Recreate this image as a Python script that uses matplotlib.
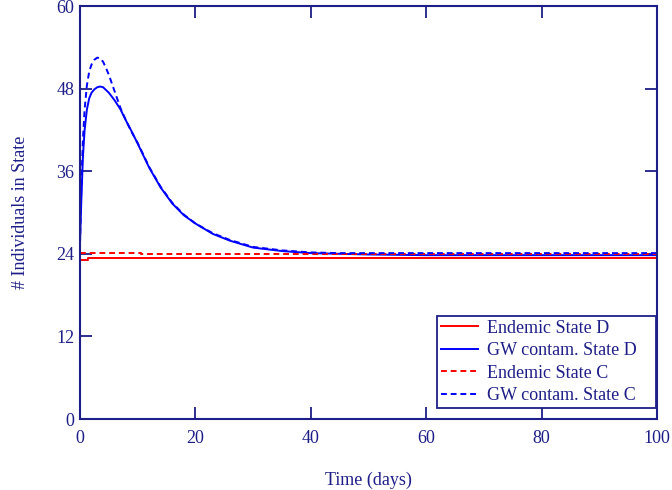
import matplotlib
matplotlib.use("Agg")
import matplotlib.pyplot as plt

# ---- data ----
t_gw_D = [0, 0.2, 0.5, 0.8, 1.2, 1.6, 2.0, 2.5, 3.0, 3.5, 4.0, 5.0, 6.0, 7.0, 8.0, 9.0,
          10, 12, 14, 16, 18, 20, 23, 26, 30, 35, 40, 45, 50, 60, 80, 100]
gw_D = [25.5, 31.0, 38.0, 42.0, 45.0, 46.6, 47.4, 47.9, 48.2, 48.3, 48.2, 47.4, 46.3, 45.0,
        43.3, 41.7, 40.0, 36.5, 33.6, 31.3, 29.6, 28.4, 26.9, 25.9, 24.9, 24.4, 24.1, 24.0,
        23.9, 23.8, 23.8, 23.8]

t_gw_C = [0, 0.2, 0.5, 0.8, 1.2, 1.6, 2.0, 2.5, 3.0, 3.5, 4.0, 4.5, 5.0, 6.0, 7.0, 8.0, 9.0,
          10, 12, 14, 16, 18, 20, 23, 26, 30, 35, 40, 45, 50, 60, 80, 100]
gw_C = [25.5, 33.0, 40.5, 45.0, 48.5, 50.5, 51.5, 52.2, 52.5, 52.4, 51.9, 51.0, 50.0, 47.6,
        45.2, 43.3, 41.6, 40.1, 36.6, 33.7, 31.4, 29.7, 28.4, 27.0, 26.0, 25.0, 24.5, 24.2,
        24.1, 24.1, 24.1, 24.1, 24.1]

t_end_D = [0, 1.4, 1.4, 100]
end_D = [23.1, 23.1, 23.4, 23.4]

t_end_C = [0, 10.6, 10.6, 100]
end_C = [24.05, 24.05, 23.9, 23.9]

x_ticks = [0, 20, 40, 60, 80, 100]
y_ticks = [0, 12, 24, 36, 48, 60]

# ---- style ----
navy = "#1e1e88"
plt.rcParams['font.family'] = ['Liberation Serif', 'DejaVu Serif']
plt.rcParams['font.size'] = 13

fig = plt.figure(figsize=(6.72, 4.90), dpi=100)
ax = fig.add_axes([80/672, 71/490, 577/672, 413/490])

lw = 1.4
ax.plot(t_end_D, end_D, color="#ff0000", lw=lw, label="Endemic State D")
ax.plot(t_gw_D, gw_D, color="#0000ff", lw=lw, label="GW contam. State D")
ax.plot(t_end_C, end_C, color="#ff0000", lw=lw, ls=(0, (3, 2)), label="Endemic State C")
ax.plot(t_gw_C, gw_C, color="#0000ff", lw=lw, ls=(0, (3, 2)), label="GW contam. State C")

ax.set_xlim(0, 100)
ax.set_ylim(0, 60)
ax.set_xticks(x_ticks)
ax.set_yticks(y_ticks)
ax.set_xticklabels([str(v) for v in x_ticks])
ax.set_yticklabels([str(v) for v in y_ticks])

for s in ax.spines.values():
    s.set_color(navy)
    s.set_linewidth(1.5)
ax.tick_params(direction="in", length=8.5, width=1.3, color=navy, labelcolor=navy,
               top=True, right=True, labelsize=13)
ax.tick_params(axis="x", pad=8)
ax.tick_params(axis="y", pad=4)

ax.set_xlabel("Time (days)", color=navy, fontsize=13, labelpad=18)
ax.set_ylabel("# Individuals in State", color=navy, fontsize=13, labelpad=20)

leg = ax.legend(loc="lower left", bbox_to_anchor=(0.619, 0.0266, 0.3795, 0.2), mode="expand",
                frameon=True, fancybox=False, framealpha=1, edgecolor=navy, fontsize=13,
                handlelength=2.05, handletextpad=0.5, borderpad=0.22, labelspacing=0.3,
                borderaxespad=0)
leg.get_frame().set_linewidth(1.3)
for txt in leg.get_texts():
    txt.set_color(navy)

fig.savefig("out.png", dpi=100)
